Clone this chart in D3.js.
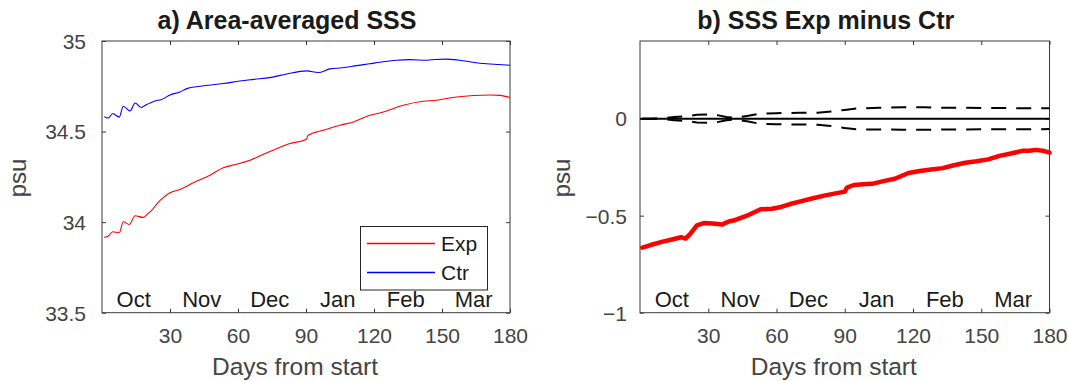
<!DOCTYPE html>
<html>
<head>
<meta charset="utf-8">
<script src="https://cdn.jsdelivr.net/npm/d3@7"></script>
<style>
  body { margin: 0; background: #fff; }
  svg { font-family: "Liberation Sans", Arial, Helvetica, sans-serif; }
</style>
</head>
<body>
<svg id="chart" width="1068" height="381"></svg>
<script>
// ---- data ----
var dayTicks = [30, 60, 90, 120, 150, 180];
var months = ["Oct", "Nov", "Dec", "Jan", "Feb", "Mar"];
var monthDays = [14, 44, 74, 104, 134, 164];
var sssTicks = [33.5, 34, 34.5, 35];
var diffTicks = [-1, -0.5, 0];

var expDays = [1, 2.8, 4.7, 7.6, 9.4, 12, 14.6, 18.2, 20.4, 22, 24.5, 27, 30, 34.4, 40.3, 47.6, 53.5, 59.4, 65.3, 71.2, 76, 82.9, 90, 91, 97.6, 105, 110.9, 118.2, 124.1, 132.9, 141.7, 147.6, 156.5, 163.8, 171.2, 175.6, 180];
var expSSS  = [33.916, 33.923, 33.947, 33.941, 34.002, 33.987, 34.035, 34.026, 34.048, 34.066, 34.105, 34.135, 34.162, 34.18, 34.217, 34.259, 34.30, 34.32, 34.342, 34.375, 34.40, 34.434, 34.456, 34.48, 34.507, 34.535, 34.553, 34.59, 34.608, 34.645, 34.667, 34.673, 34.691, 34.699, 34.702, 34.70, 34.688];

var ctrDays = [1, 2.8, 4.7, 7.6, 9.4, 12.4, 14.6, 17.2, 19.7, 23.4, 26.3, 30, 34.4, 37.4, 43.2, 53.5, 60.9, 67, 74.1, 81.5, 90.3, 95.4, 100.6, 106, 112.4, 118, 122.6, 130, 135.9, 143.3, 147, 152, 157, 162.4, 169.7, 175, 180];
var ctrSSS  = [34.582, 34.575, 34.60, 34.58, 34.64, 34.614, 34.658, 34.633, 34.649, 34.669, 34.677, 34.702, 34.719, 34.737, 34.75, 34.765, 34.779, 34.788, 34.798, 34.818, 34.835, 34.826, 34.846, 34.852, 34.864, 34.874, 34.883, 34.894, 34.897, 34.894, 34.898, 34.90, 34.895, 34.885, 34.874, 34.870, 34.866];

var diffDays = [1, 5, 10, 15, 18, 20, 22, 25, 28, 32, 36, 39, 42, 47, 53, 58, 62, 66, 71, 76, 81, 86, 90, 91, 94, 98, 102, 107, 112, 118, 123, 128, 133, 138, 143, 148, 153, 158, 163, 168, 171, 174, 177, 180];
var diffSSS  = [-0.665, -0.650, -0.634, -0.620, -0.611, -0.618, -0.595, -0.55, -0.538, -0.54, -0.546, -0.53, -0.522, -0.50, -0.467, -0.464, -0.455, -0.44, -0.425, -0.41, -0.397, -0.385, -0.376, -0.355, -0.342, -0.338, -0.336, -0.322, -0.31, -0.28, -0.27, -0.262, -0.255, -0.24, -0.227, -0.22, -0.21, -0.192, -0.18, -0.166, -0.165, -0.161, -0.165, -0.175];

var bandDays  = [1, 5, 10, 15, 20, 25, 30, 34, 38, 42, 47, 53, 60, 70, 78, 84, 90, 95, 105, 115, 125, 135, 150, 165, 180];
var bandUpper = [0, 0, 0.003, 0.008, 0.012, 0.02, 0.022, 0.018, 0.008, 0.005, 0.014, 0.026, 0.028, 0.03, 0.03, 0.037, 0.045, 0.052, 0.056, 0.058, 0.058, 0.056, 0.055, 0.054, 0.053];
var bandLower = [0, 0, -0.003, -0.008, -0.012, -0.02, -0.022, -0.018, -0.008, -0.005, -0.014, -0.027, -0.029, -0.03, -0.031, -0.038, -0.048, -0.055, -0.056, -0.057, -0.057, -0.056, -0.055, -0.055, -0.054];

var svg = d3.select("#chart");
var axisColor = "#3a3a3a", tickText = "#444", dark = "#1a1a1a";
var plotTop = 41, plotBottom = 312.7;

function zip(xs, ys) { return xs.map(function(x, i) { return [x, ys[i]]; }); }

function drawPanel(opt) {
  var x = d3.scaleLinear().domain([0, 180]).range([opt.left, opt.right]);
  var y = d3.scaleLinear().domain(opt.yDomain).range([plotBottom, plotTop]);
  var g = svg.append("g");

  // ticks, inside the box, mirrored on all four sides
  var tk = 4;
  var xb = g.append("g").attr("transform", "translate(0," + plotBottom + ")")
    .call(d3.axisBottom(x).tickValues(dayTicks).tickSizeInner(-tk).tickSizeOuter(0).tickPadding(0));
  xb.selectAll("text").attr("y", 30).attr("dy", 0)
    .attr("font-size", 21).attr("fill", tickText);
  g.append("g").attr("transform", "translate(0," + plotTop + ")")
    .call(d3.axisTop(x).tickValues(dayTicks).tickSizeInner(-tk).tickSizeOuter(0).tickFormat(""));
  var yl = g.append("g").attr("transform", "translate(" + opt.left + ",0)")
    .call(d3.axisLeft(y).tickValues(opt.yTicks).tickSizeInner(-tk).tickSizeOuter(0).tickFormat(d3.format("")));
  yl.selectAll("text").attr("x", -(opt.left - opt.yLabelRight)).attr("dy", "0.35em")
    .attr("font-size", 21).attr("fill", tickText);
  g.append("g").attr("transform", "translate(" + opt.right + ",0)")
    .call(d3.axisRight(y).tickValues(opt.yTicks).tickSizeInner(-tk).tickSizeOuter(0).tickFormat(""));
  g.selectAll(".domain").remove();
  g.selectAll(".tick line").attr("stroke", axisColor);
  g.selectAll("g").attr("font-family", null);

  // box
  g.append("rect").attr("x", opt.left).attr("y", plotTop)
    .attr("width", opt.right - opt.left).attr("height", plotBottom - plotTop)
    .attr("fill", "none").attr("stroke", axisColor).attr("stroke-width", 1);

  // month labels inside the axes
  g.selectAll(".month").data(months).enter().append("text")
    .attr("x", function(d, i) { return x(monthDays[i]); })
    .attr("y", 306.5)
    .attr("text-anchor", "middle").attr("font-size", 22).attr("fill", dark)
    .text(function(d) { return d; });

  // titles
  var cx = (opt.left + opt.right) / 2;
  g.append("text").attr("x", cx - 19).attr("y", 29).attr("text-anchor", "middle")
    .attr("font-size", 25).attr("font-weight", "bold").attr("fill", dark).text(opt.title);
  g.append("text").attr("x", cx - 11).attr("y", 375).attr("text-anchor", "middle")
    .attr("font-size", 24.5).attr("fill", tickText).text("Days from start");
  g.append("text").attr("transform", "translate(" + opt.ylabX + ",178) rotate(-90)")
    .attr("text-anchor", "middle").attr("font-size", 24).attr("fill", tickText).text("psu");

  return { g: g, x: x, y: y };
}

// ---- panel a ----
var a = drawPanel({ left: 102, right: 510, yDomain: [33.5, 35], yTicks: sssTicks,
  yLabelRight: 86, ylabX: 26, title: "a) Area-averaged SSS" });
var lineA = d3.line().curve(d3.curveMonotoneX)
  .x(function(d) { return a.x(d[0]); }).y(function(d) { return a.y(d[1]); });
a.g.append("path").datum(zip(ctrDays, ctrSSS)).attr("d", lineA)
  .attr("fill", "none").attr("stroke", "#0000ff").attr("stroke-width", 1.1);
a.g.append("path").datum(zip(expDays, expSSS)).attr("d", lineA)
  .attr("fill", "none").attr("stroke", "#ff0000").attr("stroke-width", 1.1);

// legend
var leg = a.g.append("g");
leg.append("rect").attr("x", 360.5).attr("y", 226.5).attr("width", 127).attr("height", 63.5)
  .attr("fill", "#fff").attr("stroke", "#262626").attr("stroke-width", 1);
[["Exp", "#ff0000", 243.5], ["Ctr", "#0000ff", 272.5]].forEach(function(e) {
  leg.append("line").attr("x1", 367).attr("x2", 435).attr("y1", e[2]).attr("y2", e[2])
    .attr("stroke", e[1]).attr("stroke-width", 1.3);
  leg.append("text").attr("x", 441).attr("y", e[2] + 7).attr("font-size", 21)
    .attr("fill", dark).text(e[0]);
});

// ---- panel b ----
var b = drawPanel({ left: 640, right: 1049.5, yDomain: [-1, 0.4], yTicks: diffTicks,
  yLabelRight: 627, ylabX: 570, title: "b) SSS Exp minus Ctr" });
var lineB = d3.line().x(function(d) { return b.x(d[0]); }).y(function(d) { return b.y(d[1]); });
b.g.append("line").attr("x1", b.x(0)).attr("x2", b.x(180)).attr("y1", b.y(0)).attr("y2", b.y(0))
  .attr("stroke", "#000").attr("stroke-width", 2);
[bandUpper, bandLower].forEach(function(band) {
  b.g.append("path").datum(zip(bandDays, band)).attr("d", lineB)
    .attr("fill", "none").attr("stroke", "#000").attr("stroke-width", 2)
    .attr("stroke-dasharray", "15,10");
});
b.g.append("path").datum(zip(diffDays, diffSSS)).attr("d", lineB)
  .attr("fill", "none").attr("stroke", "#ff0000").attr("stroke-width", 4.5)
  .attr("stroke-linejoin", "round").attr("stroke-linecap", "round");
</script>
</body>
</html>
